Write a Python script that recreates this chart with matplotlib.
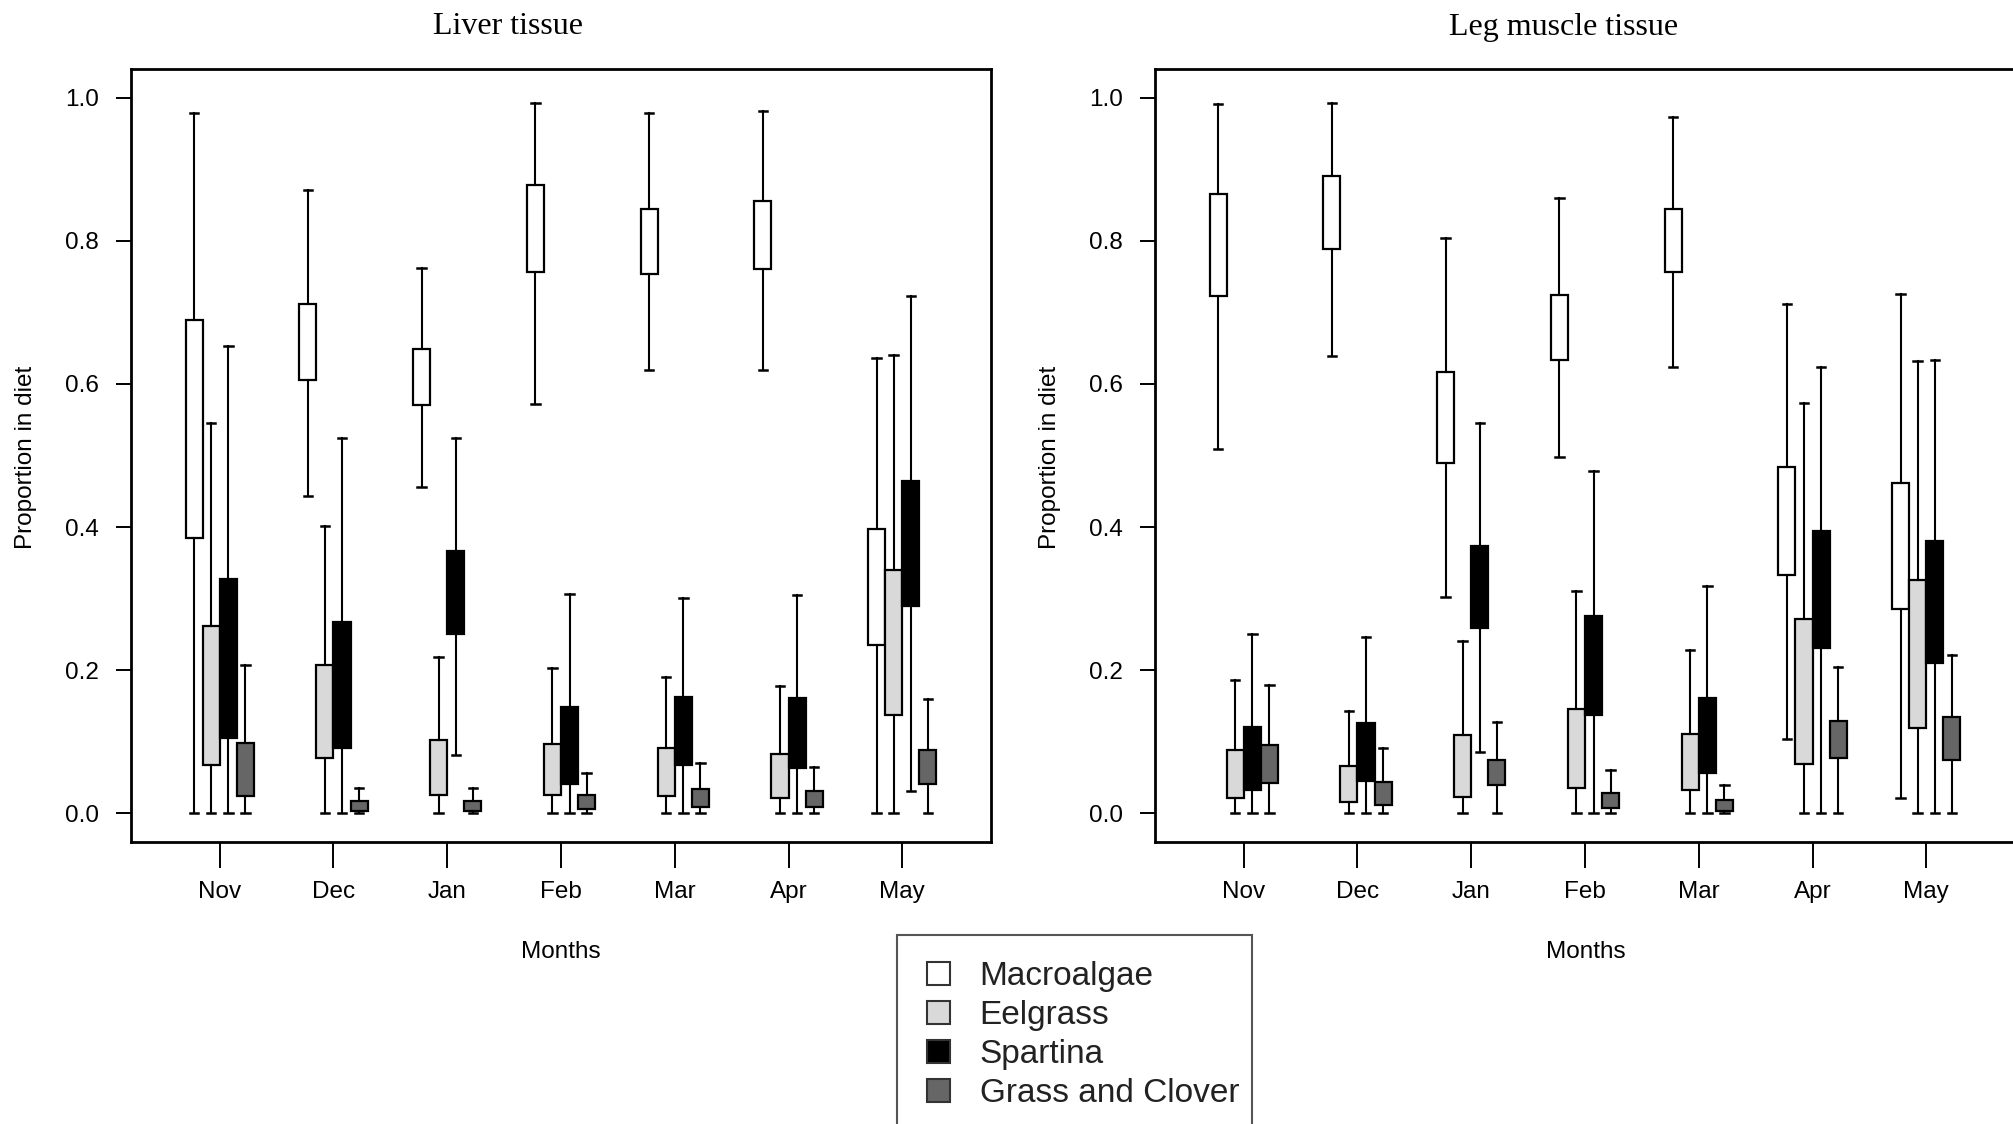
import matplotlib
matplotlib.use("Agg")
import matplotlib.pyplot as plt
from matplotlib.patches import Patch, Rectangle

plt.rcParams['font.family'] = ['Liberation Sans', 'DejaVu Sans']

# Data: rows = sources, columns = months
months = ['Nov', 'Dec', 'Jan', 'Feb', 'Mar', 'Apr', 'May']
sources = ['Macroalgae', 'Eelgrass', 'Spartina', 'Grass and Clover']

liver_hi = [
    [0.979, 0.871, 0.762, 0.993, 0.978, 0.982, 0.636],
    [0.546, 0.401, 0.218, 0.203, 0.190, 0.178, 0.641],
    [0.653, 0.525, 0.524, 0.307, 0.301, 0.305, 0.723],
    [0.207, 0.036, 0.035, 0.056, 0.071, 0.065, 0.160]]
liver_q3 = [
    [0.690, 0.712, 0.649, 0.878, 0.845, 0.855, 0.398],
    [0.262, 0.207, 0.103, 0.097, 0.091, 0.083, 0.340],
    [0.327, 0.267, 0.366, 0.148, 0.162, 0.161, 0.464],
    [0.098, 0.017, 0.017, 0.026, 0.034, 0.031, 0.088]]
liver_q1 = [
    [0.385, 0.605, 0.571, 0.756, 0.754, 0.761, 0.235],
    [0.068, 0.078, 0.026, 0.026, 0.024, 0.021, 0.138],
    [0.106, 0.092, 0.251, 0.041, 0.068, 0.063, 0.290],
    [0.024, 0.004, 0.004, 0.006, 0.009, 0.009, 0.041]]
liver_lo = [
    [0.001, 0.444, 0.456, 0.572, 0.620, 0.620, 0.000],
    [0.000, 0.000, 0.000, 0.000, 0.000, 0.000, 0.000],
    [0.000, 0.000, 0.081, 0.000, 0.000, 0.000, 0.031],
    [0.000, 0.000, 0.000, 0.000, 0.000, 0.000, 0.000]]

muscle_hi = [
    [0.991, 0.992, 0.804, 0.860, 0.973, 0.712, 0.725],
    [0.187, 0.143, 0.241, 0.311, 0.228, 0.573, 0.632],
    [0.250, 0.246, 0.546, 0.479, 0.317, 0.624, 0.634],
    [0.179, 0.091, 0.127, 0.060, 0.039, 0.205, 0.221]]
muscle_q3 = [
    [0.865, 0.891, 0.616, 0.724, 0.844, 0.484, 0.462],
    [0.088, 0.066, 0.110, 0.146, 0.111, 0.271, 0.326],
    [0.121, 0.126, 0.373, 0.276, 0.161, 0.395, 0.381],
    [0.096, 0.044, 0.075, 0.029, 0.019, 0.129, 0.134]]
muscle_q1 = [
    [0.723, 0.789, 0.490, 0.634, 0.756, 0.333, 0.286],
    [0.022, 0.016, 0.023, 0.036, 0.033, 0.069, 0.119],
    [0.032, 0.045, 0.259, 0.138, 0.056, 0.231, 0.210],
    [0.042, 0.011, 0.039, 0.008, 0.004, 0.077, 0.075]]
muscle_lo = [
    [0.509, 0.639, 0.303, 0.498, 0.624, 0.104, 0.022],
    [0.000, 0.000, 0.000, 0.000, 0.000, 0.000, 0.000],
    [0.000, 0.000, 0.086, 0.000, 0.000, 0.000, 0.000],
    [0.000, 0.000, 0.000, 0.000, 0.000, 0.000, 0.000]]

colors = ['white', '#d9d9d9', 'black', '#666666']
offsets = [-0.225, -0.075, 0.075, 0.225]
box_w = 0.15

W, H = 2013, 1124
fig = plt.figure(figsize=(W / 100, H / 100), dpi=100)


def draw_panel(ax, lo, q1, q3, hi, title, title_x):
    for k in range(len(sources)):
        stats = []
        for m in range(len(months)):
            stats.append(dict(med=q1[k][m], q1=q1[k][m], q3=q3[k][m],
                              whislo=lo[k][m], whishi=hi[k][m], fliers=[]))
        pos = [m + 1 + offsets[k] for m in range(len(months))]
        ax.bxp(stats, positions=pos, widths=box_w, patch_artist=True,
               showfliers=False, manage_ticks=False,
               boxprops=dict(facecolor=colors[k], edgecolor='black', linewidth=1.6),
               whiskerprops=dict(color='black', linewidth=1.5),
               capprops=dict(color='black', linewidth=1.8),
               medianprops=dict(linewidth=0))
    ax.set_xlim(0.22, 7.78)
    ax.set_ylim(-0.04, 1.04)
    ax.set_xticks(range(1, 8))
    ax.set_xticklabels(months, fontsize=17.5)
    ax.set_yticks([0, 0.2, 0.4, 0.6, 0.8, 1.0])
    ax.set_yticklabels(['0.0', '0.2', '0.4', '0.6', '0.8', '1.0'], fontsize=17.5)
    ax.tick_params(axis='x', length=19, width=1.4, pad=9)
    ax.tick_params(axis='y', length=11, width=1.4, pad=12)
    for s in ax.spines.values():
        s.set_linewidth(2.0)
    fig.text(title_x / W, 1 - 27 / H, title, ha='center', va='center',
             fontsize=23, family=['Liberation Serif', 'DejaVu Serif'])


ax1 = fig.add_axes([131 / W, 1 - 842 / H, 860 / W, 773 / H])
ax2 = fig.add_axes([1155 / W, 1 - 842 / H, 860 / W, 773 / H])

draw_panel(ax1, liver_lo, liver_q1, liver_q3, liver_hi, 'Liver tissue', 508)
draw_panel(ax2, muscle_lo, muscle_q1, muscle_q3, muscle_hi, 'Leg muscle tissue', 1564)

# axis labels
fig.text(26 / W, 1 - 457 / H, 'Proportion in diet', rotation=90,
         ha='center', va='center', fontsize=17.5)
fig.text(1050 / W, 1 - 457 / H, 'Proportion in diet', rotation=90,
         ha='center', va='center', fontsize=17.5)
fig.text(561 / W, 1 - 952 / H, 'Months', ha='center', va='center', fontsize=17.5)
fig.text(1586 / W, 1 - 952 / H, 'Months', ha='center', va='center', fontsize=17.5)

# legend (frame drawn separately, it runs off the bottom edge)
handles = [Patch(facecolor=c, edgecolor='#333333', linewidth=1.5) for c in colors]
leg = fig.legend(handles, sources, loc='upper left',
                 bbox_to_anchor=(927 / W, 1 - 961 / H), borderaxespad=0,
                 fontsize=24, frameon=False,
                 handlelength=0.7, handleheight=0.7, handletextpad=0.88,
                 labelspacing=0.24, borderpad=0)
for t in leg.get_texts():
    t.set_color('#222222')
fig.patches.append(Rectangle((897 / W, -0.02), (1252 - 897) / W, 1 - 935 / H + 0.02,
                             transform=fig.transFigure, fill=False,
                             edgecolor='#555555', linewidth=1.5))

fig.savefig('out.png', dpi=100)
